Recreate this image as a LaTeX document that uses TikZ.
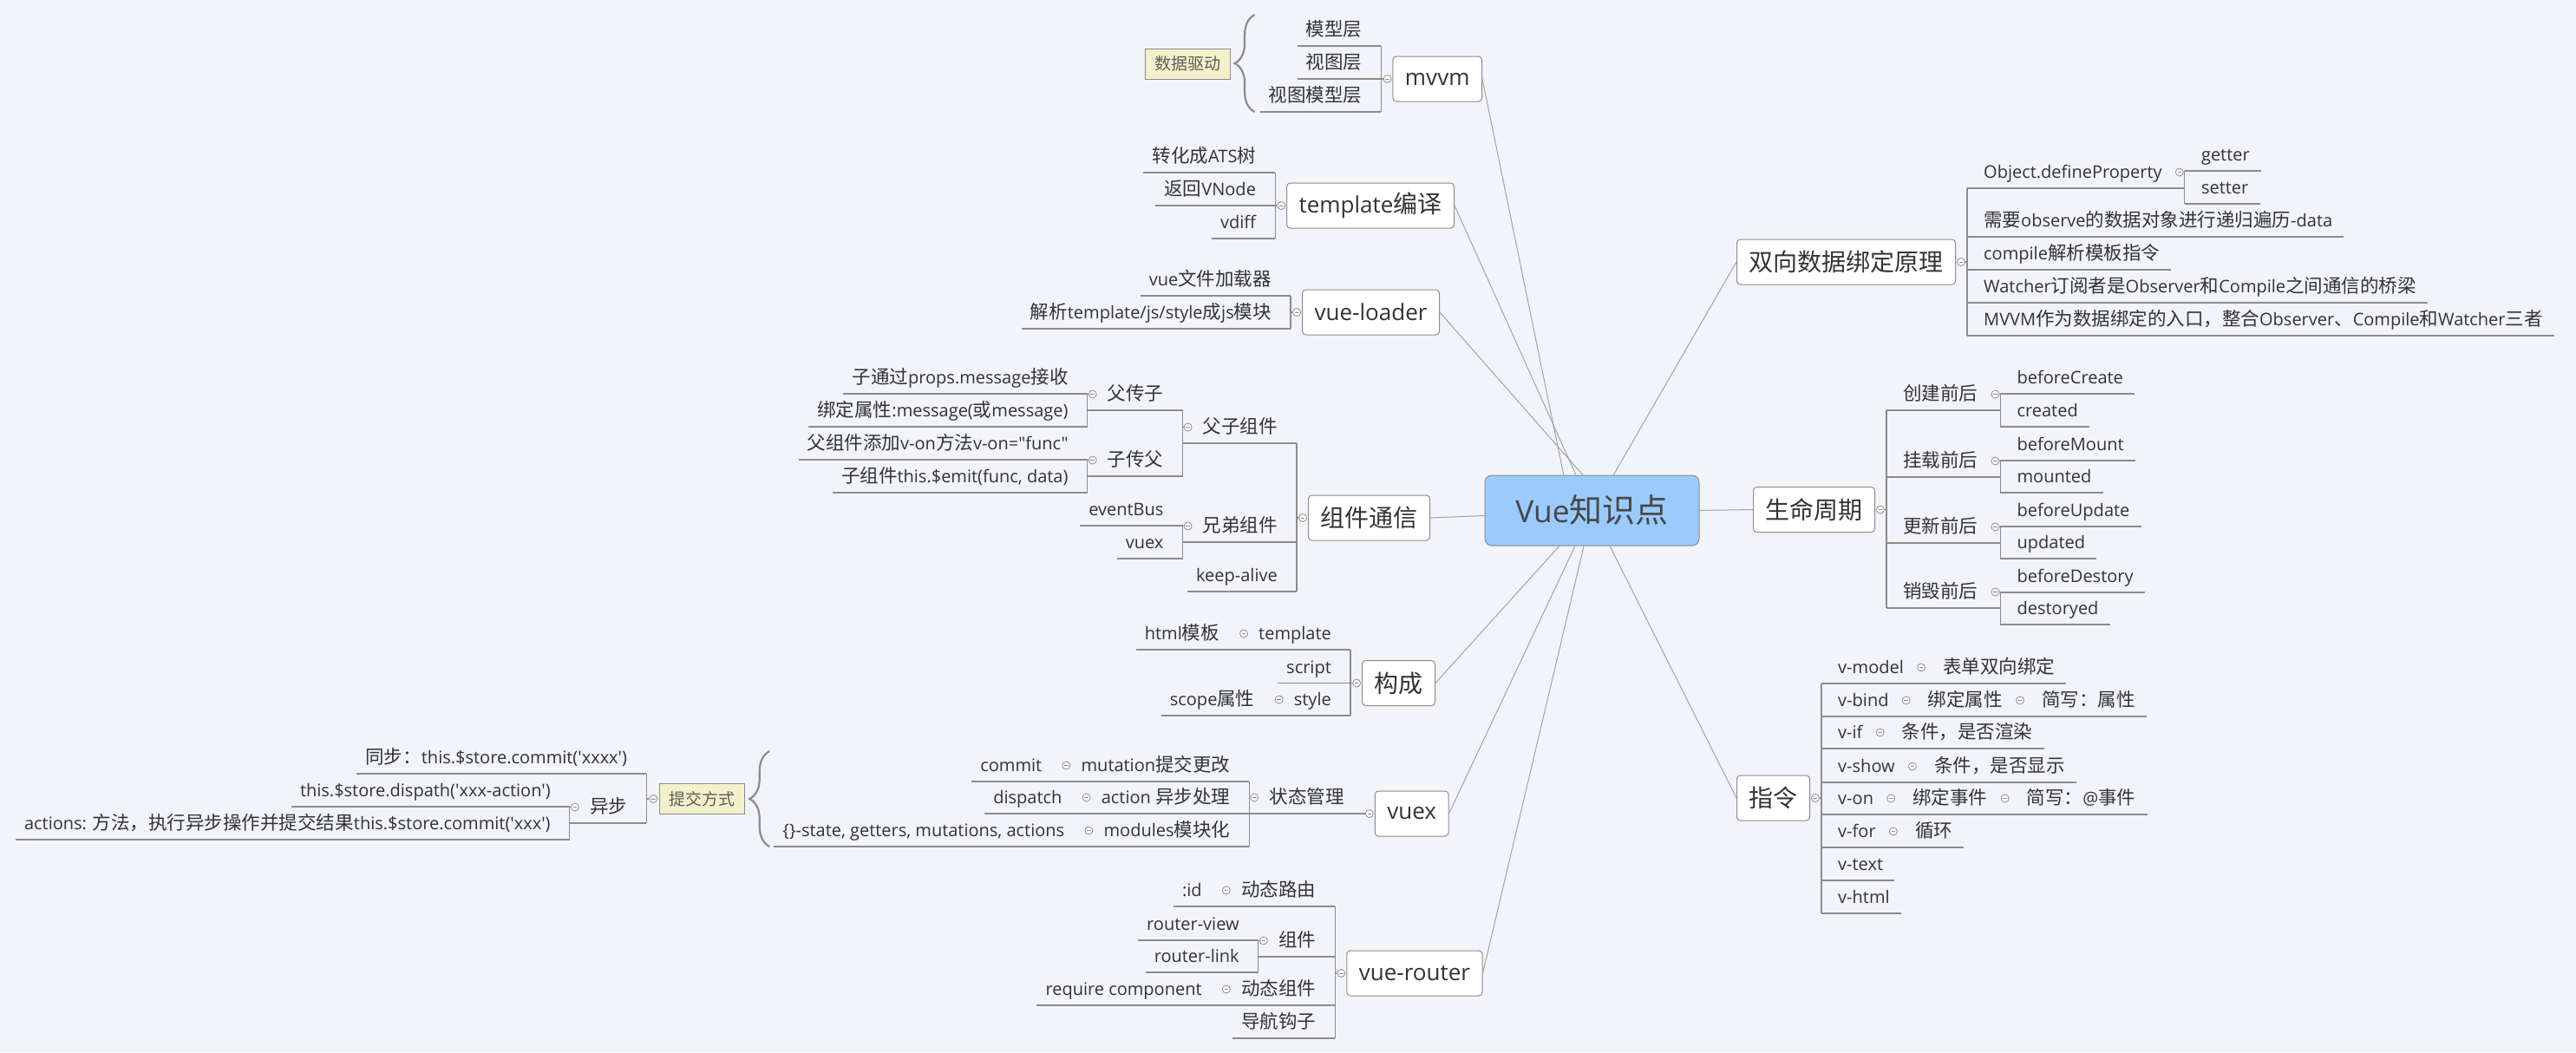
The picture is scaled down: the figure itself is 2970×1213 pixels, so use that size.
\documentclass[tikz,border=0pt]{standalone}
\usepackage{fontspec}
\newfontfamily\latn{Open Sans}[Scale=0.93]
\newfontfamily\cjk{Noto Sans CJK SC}
% Chinese characters are set in the CJK face
\XeTeXinterchartokenstate=1
\newXeTeXintercharclass\cjkclass
\newcount\cjkcnt
\def\cjkrange#1#2{\cjkcnt=#1\relax
  \loop\XeTeXcharclass\cjkcnt=\cjkclass
  \ifnum\cjkcnt<#2\advance\cjkcnt by 1\repeat}
\cjkrange{"3000}{"303F}
\cjkrange{"4E00}{"9FFF}
\cjkrange{"FF00}{"FFEF}
\XeTeXinterchartoks 0 \cjkclass = {\cjk}
\XeTeXinterchartoks 4095 \cjkclass = {\cjk}
\XeTeXinterchartoks \cjkclass 0 = {\latn}
\XeTeXinterchartoks \cjkclass 4095 = {\latn}

\usetikzlibrary{positioning,calc,decorations.pathreplacing}

\definecolor{bgc}{HTML}{F2F4F9}
\definecolor{lineg}{HTML}{8C8C8C}
\definecolor{linkg}{HTML}{A3A3A3}
\definecolor{txt}{HTML}{333333}
\definecolor{rootblue}{HTML}{9ACBFC}
\definecolor{sumfill}{HTML}{F3F1CC}

\tikzset{
  conn/.style={draw=lineg, line width=1.2pt},
  rootlink/.style={draw=linkg, line width=1pt},
  rootnode/.style={draw=lineg, fill=rootblue, rounded corners=8pt, line width=1pt,
    font=\latn\fontsize{38pt}{44pt}\selectfont, text=txt!90, minimum width=247pt, minimum height=81pt},
  mainbranch/.style={draw=lineg, fill=white, rounded corners=4pt, line width=1pt,
    font=\latn\fontsize{28pt}{34pt}\selectfont, text=txt, inner xsep=14pt, minimum height=52pt},
  sumbox/.style={draw=lineg, fill=sumfill, line width=1pt,
    font=\latn\fontsize{19pt}{23pt}\selectfont, text=txt!80, inner xsep=11pt, minimum height=35pt},
  bracegray/.style={decorate, decoration={brace, amplitude=23pt}, draw=lineg, line width=2.2pt},
  foldmark/.style={circle, draw=lineg, fill=white, inner sep=0pt, minimum size=9pt, line width=0.8pt,
    path picture={\draw[lineg, line width=0.8pt] ([xshift=-2.3pt]path picture bounding box.center)
      -- ([xshift=2.3pt]path picture bounding box.center);}},
  topic/.style={font=\latn\fontsize{21.5pt}{26pt}\selectfont, text=txt, inner xsep=0pt, inner ysep=5pt,
    text height=17pt, text depth=6pt,
    append after command={(\tikzlastnode.south west) edge[conn] (\tikzlastnode.south east)}},
  leafL/.style={topic, anchor=south east,
    execute at begin node={\hspace*{10pt}}, execute at end node={\hspace*{22pt}}},
  foldL/.style={topic, anchor=south east,
    execute at begin node={\hspace*{23pt}}, execute at end node={\hspace*{22pt}}},
  leafR/.style={topic, anchor=south west,
    execute at begin node={\hspace*{19pt}}, execute at end node={\hspace*{13pt}}},
  foldR/.style={topic, anchor=south west,
    execute at begin node={\hspace*{19pt}}, execute at end node={\hspace*{26pt}}},
}

\begin{document}
\begin{tikzpicture}[x=1pt, y=-1pt]
\fill[bgc] (0,0) rectangle (2970,1213);
\useasboundingbox (0,0) rectangle (2970,1213);

%the root and the main branches
\node[rootnode] (root) at (1835.5,588.5) {Vue知识点};

\node[mainbranch, anchor=east] (mvvm) at (1709,91) {mvvm};
\node[mainbranch, anchor=east] (tpl) at (1677,237) {template编译};
\node[mainbranch, anchor=east] (ldr) at (1660,360) {vue-loader};
\node[mainbranch, anchor=east] (zj) at (1649,597) {组件通信};
\node[mainbranch, anchor=east] (gc) at (1655,787.5) {构成};
\node[mainbranch, anchor=east] (vx) at (1670.5,938) {vuex};
\node[mainbranch, anchor=east] (vr) at (1709.5,1122) {vue-router};

\node[mainbranch, anchor=west] (sx) at (2002,302) {双向数据绑定原理};
\node[mainbranch, anchor=west] (sm) at (2021,587.5) {生命周期};
\node[mainbranch, anchor=west] (zl) at (2002,920) {指令};

\draw[rootlink] (mvvm.east) -- ($(root.north west)!0.368!(root.north east)$);
\draw[rootlink] (tpl.east) -- ($(root.north west)!0.425!(root.north east)$);
\draw[rootlink] (ldr.east) -- ($(root.north west)!0.457!(root.north east)$);
\draw[rootlink] (zj.east) -- ([yshift=-6pt]root.west);
\draw[rootlink] (gc.east) -- ($(root.south west)!0.348!(root.south east)$);
\draw[rootlink] (vx.east) -- ($(root.south west)!0.421!(root.south east)$);
\draw[rootlink] (vr.east) -- ($(root.south west)!0.462!(root.south east)$);
\draw[rootlink] (sx.west) -- ($(root.north west)!0.6!(root.north east)$);
\draw[rootlink] (sm.west) -- (root.east);
\draw[rootlink] (zl.west) -- ($(root.south west)!0.583!(root.south east)$);

%mvvm
\node[foldmark, left=1pt of mvvm] (f-mvvm) {};
\coordinate (s-mvvm) at ([xshift=-13pt]mvvm.west);
\node[leafL] (mvvm-1) at (s-mvvm |- 0,53) {模型层};
\node[leafL] (mvvm-2) at (s-mvvm |- 0,91) {视图层};
\node[leafL] (mvvm-3) at (s-mvvm |- 0,129) {视图模型层};
\draw[conn] (mvvm-1.south east) -- (mvvm-3.south east);
\draw[conn] (f-mvvm) -- (s-mvvm);
\draw[bracegray] ($(mvvm-3.south west)+(-6pt,0)$) -- ($(mvvm-3.south west |- 0,17)+(-6pt,0)$);
\node[sumbox, anchor=east] (sj) at ($(mvvm-3.south west |- 0,73.5)+(-34pt,0)$) {数据驱动};

%template
\node[foldmark, left=1pt of tpl] (f-tpl) {};
\coordinate (s-tpl) at ([xshift=-13pt]tpl.west);
\node[leafL] (tpl-1) at (s-tpl |- 0,199) {转化成ATS树};
\node[leafL] (tpl-2) at (s-tpl |- 0,237) {返回VNode};
\node[leafL] (tpl-3) at (s-tpl |- 0,275) {vdiff};
\draw[conn] (tpl-1.south east) -- (tpl-3.south east);
\draw[conn] (f-tpl) -- (s-tpl);

%vue-loader
\node[foldmark, left=1pt of ldr] (f-ldr) {};
\coordinate (s-ldr) at ([xshift=-13pt]ldr.west);
\node[leafL] (ldr-1) at (s-ldr |- 0,341) {vue文件加载器};
\node[leafL] (ldr-2) at (s-ldr |- 0,379) {解析template/js/style成js模块};
\draw[conn] (ldr-1.south east) -- (ldr-2.south east);
\draw[conn] (f-ldr) -- (s-ldr);

%components
\node[foldmark, left=1pt of zj] (f-zj) {};
\coordinate (s-zj) at ([xshift=-13pt]zj.west);
\node[foldL] (fz) at (s-zj |- 0,511) {父子组件};
\node[foldL] (xd) at (s-zj |- 0,625) {兄弟组件};
\node[leafL] (ka) at (s-zj |- 0,682) {keep-alive};
\draw[conn] (fz.south east) -- (ka.south east);
\draw[conn] (f-zj) -- (s-zj);

\node[foldmark] (f-fz) at ([xshift=6pt,yshift=18.5pt]fz.south west) {};
\node[foldL] (fcz) at (fz.south west |- 0,473) {父传子};
\node[foldL] (zcf) at (fz.south west |- 0,549) {子传父};
\draw[conn] (fcz.south east) -- (zcf.south east);
\draw[conn] (f-fz) -- (f-fz -| fz.south west);

\node[foldmark] (f-fcz) at ([xshift=6pt,yshift=18.5pt]fcz.south west) {};
\node[leafL] (fcz-1) at (fcz.south west |- 0,454) {子通过props.message接收};
\node[leafL] (fcz-2) at (fcz.south west |- 0,492) {绑定属性:message(或message)};
\draw[conn] (fcz-1.south east) -- (fcz-2.south east);
\draw[conn] (f-fcz) -- (f-fcz -| fcz.south west);

\node[foldmark] (f-zcf) at ([xshift=6pt,yshift=18.5pt]zcf.south west) {};
\node[leafL] (zcf-1) at (zcf.south west |- 0,530) {父组件添加v-on方法v-on="func"};
\node[leafL] (zcf-2) at (zcf.south west |- 0,568) {子组件this.\$emit(func, data)};
\draw[conn] (zcf-1.south east) -- (zcf-2.south east);
\draw[conn] (f-zcf) -- (f-zcf -| zcf.south west);

\node[foldmark] (f-xd) at ([xshift=6pt,yshift=18.5pt]xd.south west) {};
\node[leafL] (xd-1) at (xd.south west |- 0,606) {eventBus};
\node[leafL] (xd-2) at (xd.south west |- 0,644) {vuex};
\draw[conn] (xd-1.south east) -- (xd-2.south east);
\draw[conn] (f-xd) -- (f-xd -| xd.south west);

%structure
\node[foldmark, left=1pt of gc] (f-gc) {};
\coordinate (s-gc) at ([xshift=-13pt]gc.west);
\node[foldL] (gc-1) at (s-gc |- 0,749) {template};
\node[leafL] (gc-2) at (s-gc |- 0,787.5) {script};
\node[foldL] (gc-3) at (s-gc |- 0,825) {style};
\draw[conn] (gc-1.south east) -- (gc-3.south east);
\draw[conn] (f-gc) -- (s-gc);
\node[foldmark] (f-gc-1) at ([xshift=6pt,yshift=18.5pt]gc-1.south west) {};
\node[leafL] (gc-1a) at (gc-1.south west) {html模板};
\node[foldmark] (f-gc-3) at ([xshift=6pt,yshift=18.5pt]gc-3.south west) {};
\node[leafL] (gc-3a) at (gc-3.south west) {scope属性};

%vuex
\node[foldmark, left=1pt of vx] (f-vx) {};
\coordinate (s-vx) at ([xshift=-13pt]vx.west);
\node[foldL] (zt) at (s-vx |- 0,938) {状态管理};
\draw[conn] (f-vx) -- (s-vx);

\node[foldmark] (f-zt) at ([xshift=6pt,yshift=18.5pt]zt.south west) {};
\node[foldL] (zt-1) at (zt.south west |- 0,901) {mutation提交更改};
\node[foldL] (zt-2) at (zt.south west |- 0,938) {action 异步处理};
\node[foldL] (zt-3) at (zt.south west |- 0,976) {modules模块化};
\draw[conn] (zt-1.south east) -- (zt-3.south east);
\draw[conn] (f-zt) -- (f-zt -| zt.south west);
\node[foldmark] (f-zt-1) at ([xshift=6pt,yshift=18.5pt]zt-1.south west) {};
\node[leafL] (zt-1a) at (zt-1.south west) {commit};
\node[foldmark] (f-zt-2) at ([xshift=6pt,yshift=18.5pt]zt-2.south west) {};
\node[leafL] (zt-2a) at (zt-2.south west) {dispatch};
\node[foldmark] (f-zt-3) at ([xshift=6pt,yshift=18.5pt]zt-3.south west) {};
\node[leafL] (zt-3a) at (zt-3.south west) {\{\}-state, getters, mutations, actions};

\draw[bracegray] ($(zt-3a.south west)+(-5pt,0)$) -- ($(zt-3a.south west |- 0,866)+(-5pt,0)$);
\node[sumbox, anchor=east] (tj) at ($(zt-3a.south west |- 0,921)+(-33pt,0)$) {提交方式};
\node[foldmark, left=2pt of tj] (f-tj) {};
\coordinate (s-tj) at ([xshift=-15pt]tj.west);
\node[leafL] (tj-1) at (s-tj |- 0,892) {同步：this.\$store.commit('xxxx')};
\node[foldL] (tj-2) at (s-tj |- 0,949) {异步};
\draw[conn] (tj-1.south east) -- (tj-2.south east);
\draw[conn] (f-tj) -- (s-tj);
\node[foldmark] (f-tj-2) at ([xshift=6pt,yshift=18.5pt]tj-2.south west) {};
\node[leafL] (tj-2a) at (tj-2.south west |- 0,930) {this.\$store.dispath('xxx-action')};
\node[leafL] (tj-2b) at (tj-2.south west |- 0,968) {actions: 方法，执行异步操作并提交结果this.\$store.commit('xxx')};
\draw[conn] (tj-2a.south east) -- (tj-2b.south east);
\draw[conn] (f-tj-2) -- (f-tj-2 -| tj-2.south west);

%vue-router
\node[foldmark, left=1pt of vr] (f-vr) {};
\coordinate (s-vr) at ([xshift=-13pt]vr.west);
\node[foldL] (vr-1) at (s-vr |- 0,1045) {动态路由};
\node[foldL] (vr-2) at (s-vr |- 0,1103) {组件};
\node[foldL] (vr-3) at (s-vr |- 0,1159) {动态组件};
\node[leafL] (vr-4) at (s-vr |- 0,1197) {导航钩子};
\draw[conn] (vr-1.south east) -- (vr-4.south east);
\draw[conn] (f-vr) -- (s-vr);
\node[foldmark] (f-vr-1) at ([xshift=6pt,yshift=18.5pt]vr-1.south west) {};
\node[leafL] (vr-1a) at (vr-1.south west) {:id};
\node[foldmark] (f-vr-2) at ([xshift=6pt,yshift=18.5pt]vr-2.south west) {};
\node[leafL] (vr-2a) at (vr-2.south west |- 0,1084) {router-view};
\node[leafL] (vr-2b) at (vr-2.south west |- 0,1121) {router-link};
\draw[conn] (vr-2a.south east) -- (vr-2b.south east);
\draw[conn] (f-vr-2) -- (f-vr-2 -| vr-2.south west);
\node[foldmark] (f-vr-3) at ([xshift=6pt,yshift=18.5pt]vr-3.south west) {};
\node[leafL] (vr-3a) at (vr-3.south west) {require component};

%two-way binding
\node[foldmark, right=1pt of sx] (f-sx) {};
\coordinate (s-sx) at ([xshift=13pt]sx.east);
\node[foldR] (sx-1) at (s-sx |- 0,217) {Object.defineProperty};
\node[leafR] (sx-2) at (s-sx |- 0,273) {需要observe的数据对象进行递归遍历-data};
\node[leafR] (sx-3) at (s-sx |- 0,311) {compile解析模板指令};
\node[leafR] (sx-4) at (s-sx |- 0,349) {Watcher订阅者是Observer和Compile之间通信的桥梁};
\node[leafR] (sx-5) at (s-sx |- 0,387) {MVVM作为数据绑定的入口，整合Observer、Compile和Watcher三者};
\draw[conn] (sx-1.south west) -- (sx-5.south west);
\draw[conn] (f-sx) -- (s-sx);
\node[foldmark] (f-sx-1) at ([xshift=-6pt,yshift=18.5pt]sx-1.south east) {};
\node[leafR] (sx-1a) at (sx-1.south east |- 0,197) {getter};
\node[leafR] (sx-1b) at (sx-1.south east |- 0,235) {setter};
\draw[conn] (sx-1a.south west) -- (sx-1b.south west);
\draw[conn] (f-sx-1) -- (f-sx-1 -| sx-1.south east);

%lifecycle
\node[foldmark, right=1pt of sm] (f-sm) {};
\coordinate (s-sm) at ([xshift=13pt]sm.east);
\node[foldR] (sm-1) at (s-sm |- 0,473) {创建前后};
\node[foldR] (sm-2) at (s-sm |- 0,550) {挂载前后};
\node[foldR] (sm-3) at (s-sm |- 0,626) {更新前后};
\node[foldR] (sm-4) at (s-sm |- 0,701) {销毁前后};
\draw[conn] (sm-1.south west) -- (sm-4.south west);
\draw[conn] (f-sm) -- (s-sm);
\foreach \i/\nA/\nB/\ya/\yb in {1/beforeCreate/created/454/492,
    2/beforeMount/mounted/531/568, 3/beforeUpdate/updated/607/644,
    4/beforeDestory/destoryed/683/720}{
  \node[foldmark] (f-sm-\i) at ([xshift=-6pt,yshift=18.5pt]sm-\i.south east) {};
  \node[leafR] (sm-\i-a) at (sm-\i.south east |- 0,\ya) {\nA};
  \node[leafR] (sm-\i-b) at (sm-\i.south east |- 0,\yb) {\nB};
  \draw[conn] (sm-\i-a.south west) -- (sm-\i-b.south west);
  \draw[conn] (f-sm-\i) -- (f-sm-\i -| sm-\i.south east);
}

%directives
\node[foldmark, right=1pt of zl] (f-zl) {};
\coordinate (s-zl) at ([xshift=13pt]zl.east);
\node[foldR] (zl-1) at (s-zl |- 0,788) {v-model};
\node[foldR] (zl-2) at (s-zl |- 0,826) {v-bind};
\node[foldR] (zl-3) at (s-zl |- 0,863) {v-if};
\node[foldR] (zl-4) at (s-zl |- 0,902) {v-show};
\node[foldR] (zl-5) at (s-zl |- 0,939) {v-on};
\node[foldR] (zl-6) at (s-zl |- 0,977) {v-for};
\node[leafR] (zl-7) at (s-zl |- 0,1015) {v-text};
\node[leafR] (zl-8) at (s-zl |- 0,1053) {v-html};
\draw[conn] (zl-1.south west) -- (zl-8.south west);
\draw[conn] (f-zl) -- (s-zl);

\node[foldmark] (f-zl-1) at ([xshift=-6pt,yshift=18.5pt]zl-1.south east) {};
\node[leafR] (zl-1a) at (zl-1.south east) {表单双向绑定};
\node[foldmark] (f-zl-2) at ([xshift=-6pt,yshift=18.5pt]zl-2.south east) {};
\node[foldR] (zl-2a) at (zl-2.south east) {绑定属性};
\node[foldmark] (f-zl-2a) at ([xshift=-6pt,yshift=18.5pt]zl-2a.south east) {};
\node[leafR] (zl-2b) at (zl-2a.south east) {简写：属性};
\node[foldmark] (f-zl-3) at ([xshift=-6pt,yshift=18.5pt]zl-3.south east) {};
\node[leafR] (zl-3a) at (zl-3.south east) {条件，是否渲染};
\node[foldmark] (f-zl-4) at ([xshift=-6pt,yshift=18.5pt]zl-4.south east) {};
\node[leafR] (zl-4a) at (zl-4.south east) {条件，是否显示};
\node[foldmark] (f-zl-5) at ([xshift=-6pt,yshift=18.5pt]zl-5.south east) {};
\node[foldR] (zl-5a) at (zl-5.south east) {绑定事件};
\node[foldmark] (f-zl-5a) at ([xshift=-6pt,yshift=18.5pt]zl-5a.south east) {};
\node[leafR] (zl-5b) at (zl-5a.south east) {简写：@事件};
\node[foldmark] (f-zl-6) at ([xshift=-6pt,yshift=18.5pt]zl-6.south east) {};
\node[leafR] (zl-6a) at (zl-6.south east) {循环};

\end{tikzpicture}
\end{document}
